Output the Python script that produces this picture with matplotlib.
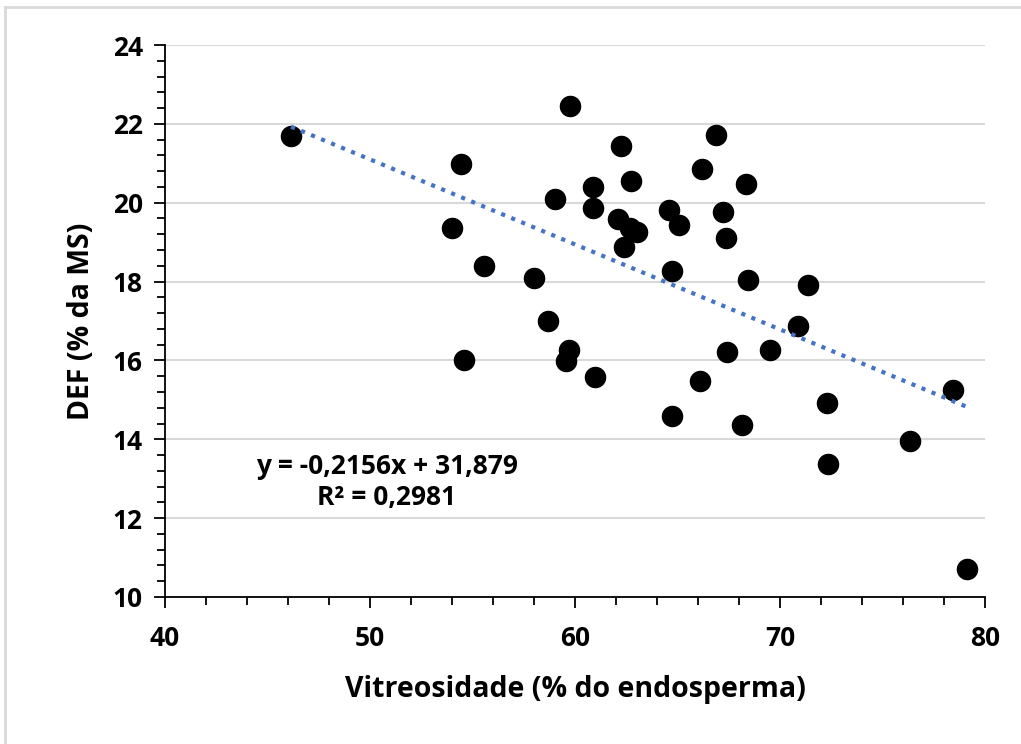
import numpy as np
import matplotlib.pyplot as plt
from matplotlib.ticker import MultipleLocator
from matplotlib.patches import Rectangle

plt.rcParams["font.family"] = ["Open Sans", "DejaVu Sans"]
plt.rcParams["font.weight"] = "bold"

# Vitreosidade (% do endosperma) vs DEF (% da MS)
vitreosidade = [46.15, 54.44, 54.0, 54.59, 55.56, 58.0, 58.68, 59.02, 59.76, 59.71,
                59.56, 60.98, 60.88, 60.88, 62.24, 62.1, 62.39, 62.68, 63.02, 62.73,
                64.59, 65.07, 64.73, 64.73, 66.1, 66.2, 66.88, 67.22, 67.37, 67.41,
                68.34, 68.44, 68.15, 69.51, 70.88, 71.37, 72.29, 72.34, 76.34, 78.44,
                79.12]
def_ms = [21.69, 20.98, 19.36, 16.01, 18.39, 18.09, 17.0, 20.09, 22.45, 16.26,
          15.99, 15.58, 20.40, 19.87, 21.44, 19.59, 18.88, 19.36, 19.26, 20.55,
          19.81, 19.43, 18.27, 14.59, 15.48, 20.85, 21.72, 19.76, 19.10, 16.21,
          20.47, 18.04, 14.36, 16.26, 16.87, 17.91, 14.92, 13.37, 13.96, 15.25,
          10.71]

slope = -0.2156
intercept = 31.879

fig = plt.figure(figsize=(10.21, 7.44), dpi=100)
ax = fig.add_axes([0.1616, 0.1976, 0.8031, 0.7419])

# chart area border (top and left visible)
fig.patches.append(Rectangle((0.005, -0.01), 1.2, 1.0, transform=fig.transFigure,
                             fill=False, edgecolor="#d9d9d9", linewidth=2))

ax.scatter(vitreosidade, def_ms, s=210, color="black", zorder=3)

xs = np.array([min(vitreosidade), max(vitreosidade)])
ax.plot(xs, slope * xs + intercept, color="#4472C4", linestyle=(0, (1, 1.6)),
        linewidth=3, zorder=4)

ax.set_xlim(40, 80)
ax.set_ylim(10, 24)
ax.xaxis.set_major_locator(MultipleLocator(10))
ax.xaxis.set_minor_locator(MultipleLocator(2))
ax.yaxis.set_major_locator(MultipleLocator(2))
ax.yaxis.set_minor_locator(MultipleLocator(0.4))

ax.grid(axis="y", which="major", color="#d9d9d9", linewidth=1.5)
ax.set_axisbelow(True)
for side in ["top", "right"]:
    ax.spines[side].set_visible(False)
for side in ["left", "bottom"]:
    ax.spines[side].set_linewidth(1.3)

ax.tick_params(which="major", length=8, width=1.3, labelsize=19, pad=8)
ax.tick_params(which="minor", length=6, width=1.3)
ax.tick_params(axis="x", which="major", pad=12)

ax.set_xlabel("Vitreosidade (% do endosperma)", fontsize=20.5, fontweight="bold", labelpad=17)
ax.set_ylabel("DEF (% da MS)", fontsize=20.5, fontweight="bold", labelpad=12)

ax.text(50.83, 13.32, "y = -0,2156x + 31,879", fontsize=19, fontweight="bold",
        ha="center", va="center")
ax.text(50.83, 12.53, "R² = 0,2981", fontsize=19, fontweight="bold",
        ha="center", va="center")

fig.savefig("out.png", dpi=100)
